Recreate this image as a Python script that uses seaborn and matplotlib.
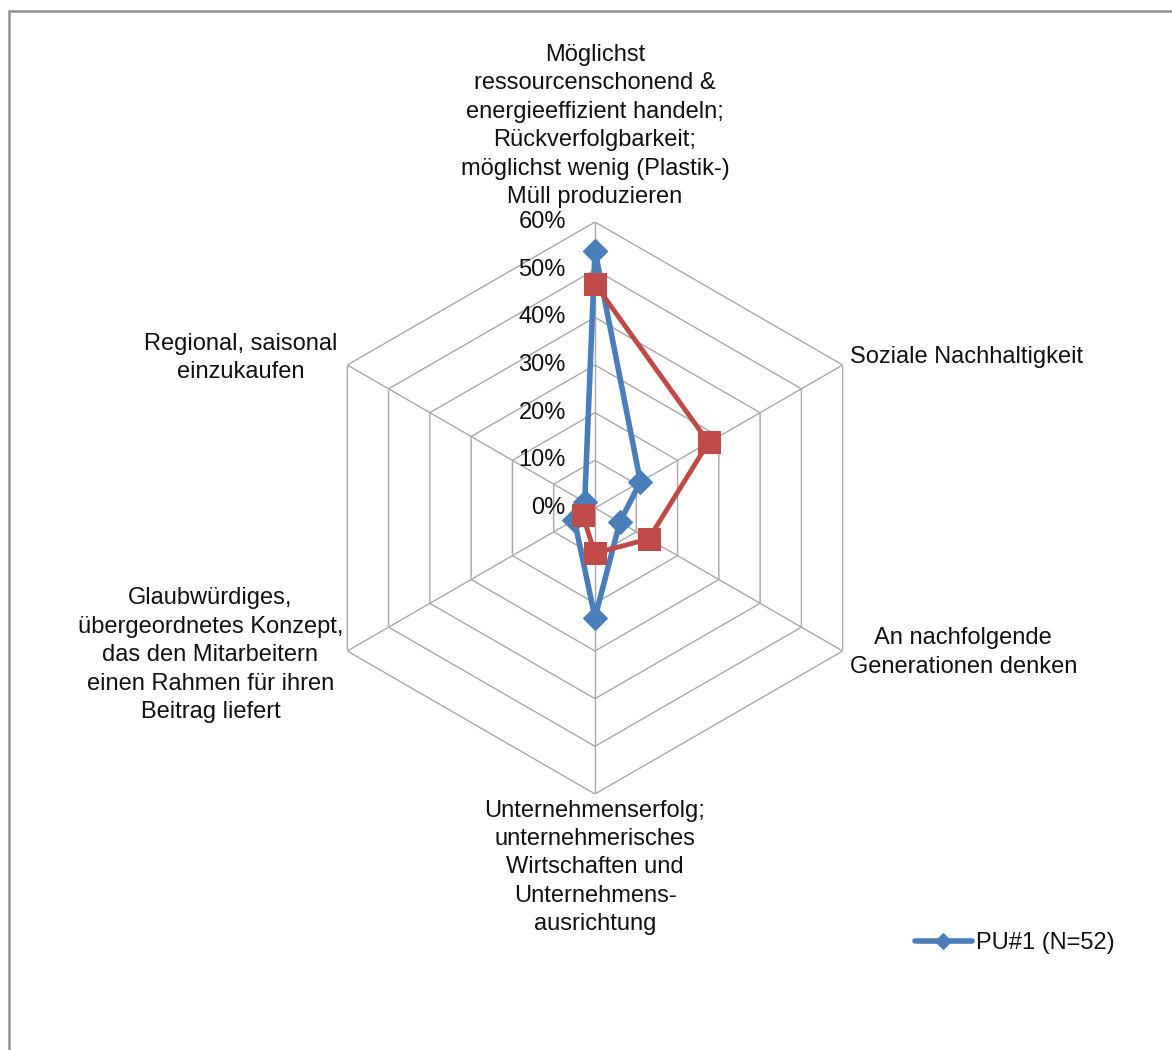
import numpy as np
import pandas as pd
import matplotlib
matplotlib.use("Agg")
import matplotlib.pyplot as plt
import seaborn as sns
from matplotlib.patches import Rectangle

# Radar axes, clockwise from the top
categories = [
    "Möglichst\nressourcenschonend &\nenergieeffizient handeln;\nRückverfolgbarkeit;\nmöglichst wenig (Plastik-)\nMüll produzieren",
    "Soziale Nachhaltigkeit",
    "An nachfolgende\nGenerationen denken",
    "Unternehmenserfolg;\nunternehmerisches\nWirtschaften und\nUnternehmens-\nausrichtung",
    "Glaubwürdiges,\nübergeordnetes Konzept,\ndas den Mitarbeitern\neinen Rahmen für ihren\nBeitrag liefert",
    "Regional, saisonal\neinzukaufen",
]

# Shares per axis (NaN = no value, the line breaks there)
pu1_values = [0.54, 0.11, 0.06, 0.23, 0.05, 0.025]
second_values = [0.47, 0.275, 0.13, 0.095, 0.03, np.nan]
pu1_label = "PU#1 (N=52)"

# Radial scale
ring_values = [0.0, 0.1, 0.2, 0.3, 0.4, 0.5, 0.6]
ring_labels = ["0%", "10%", "20%", "30%", "40%", "50%", "60%"]

sns.set_theme(style="white")
plt.rcParams["font.family"] = ["Liberation Sans", "DejaVu Sans"]

BLUE = "#4A7EBB"
RED = "#BE4B48"
GRID = "#A8A8A8"
TEXT = "#111111"
FS = 17

n = len(categories)
angles = np.arange(n) * 2 * np.pi / n
theta_closed = np.append(angles, 2 * np.pi)


def closed(values):
    """Close the polygon and split it into runs separated by missing values."""
    vals = list(values) + [values[0]]
    seg, segs = 0, []
    for v in vals:
        if np.isnan(v):
            seg += 1
        segs.append(seg)
    df = pd.DataFrame({"theta": theta_closed, "value": vals, "run": segs})
    return df.dropna()


df_pu1 = closed(pu1_values)
df_second = closed(second_values)

fig = plt.figure(figsize=(11.72, 10.5), dpi=100)
cx, cy, R = 595, 508, 286
W, H = 1172, 1050
ax = fig.add_axes([(cx - R) / W, (H - cy - R) / H, 2 * R / W, 2 * R / H],
                  projection="polar")
ax.set_theta_zero_location("N")
ax.set_theta_direction(-1)
ax.set_ylim(0, 0.6)
ax.grid(False)
ax.set_xticks([])
ax.set_yticks([])
ax.spines["polar"].set_visible(False)
ax.patch.set_alpha(0)

# Hexagonal grid rings and spokes
for r in ring_values[1:]:
    ax.plot(theta_closed, [r] * len(theta_closed), color=GRID, lw=1.0, zorder=1)
for a in angles:
    ax.plot([a, a], [0, 0.6], color=GRID, lw=1.0, zorder=1)

# Data series
sns.lineplot(data=df_pu1, x="theta", y="value", units="run", ax=ax, sort=False,
             estimator=None, color=BLUE, lw=4.0, marker="D", markersize=12.5,
             markeredgecolor=BLUE, label=pu1_label, zorder=3, clip_on=False)
sns.lineplot(data=df_second, x="theta", y="value", units="run", ax=ax, sort=False,
             estimator=None, color=RED, lw=3.5, marker="s", markersize=16,
             markeredgecolor=RED, legend=False, zorder=4, clip_on=False)
ax.set_xlabel("")
ax.set_ylabel("")

# Radial tick labels along the top spoke
for r, lab in zip(ring_values, ring_labels):
    ax.annotate(lab, xy=(0, r), xytext=(-21, 0), textcoords="offset points",
                ha="right", va="center", fontsize=FS, color=TEXT)

# Category labels at the outer vertices
placements = [
    ((0, 10), "center", "bottom"),
    ((5, 6), "left", "center"),
    ((5, -1), "left", "center"),
    ((0, -4), "center", "top"),
    ((-3, -3), "right", "center"),
    ((-7, 5), "right", "center"),
]
for a, lab, (off, ha, va) in zip(angles, categories, placements):
    ax.annotate(lab, xy=(a, 0.6), xytext=off, textcoords="offset points",
                ha=ha, va=va, multialignment="center", fontsize=FS, color=TEXT,
                linespacing=1.38, annotation_clip=False)

# Legend
handles, labels = ax.get_legend_handles_labels()
ax.legend(handles[:1], labels[:1], loc="center left",
          bbox_to_anchor=(915 / W, 1 - 943 / H), bbox_transform=fig.transFigure,
          frameon=False, borderpad=0, borderaxespad=0, handlelength=2.4,
          handletextpad=0.2, fontsize=FS, markerscale=0.65, labelcolor=TEXT)

# Outer frame
fig.add_artist(Rectangle((9 / W, -0.05), 1.2, 1 - 11 / H + 0.05,
                         transform=fig.transFigure, fill=False,
                         edgecolor="#8E8E8E", lw=1.8))

fig.savefig("out.png", dpi=100)
